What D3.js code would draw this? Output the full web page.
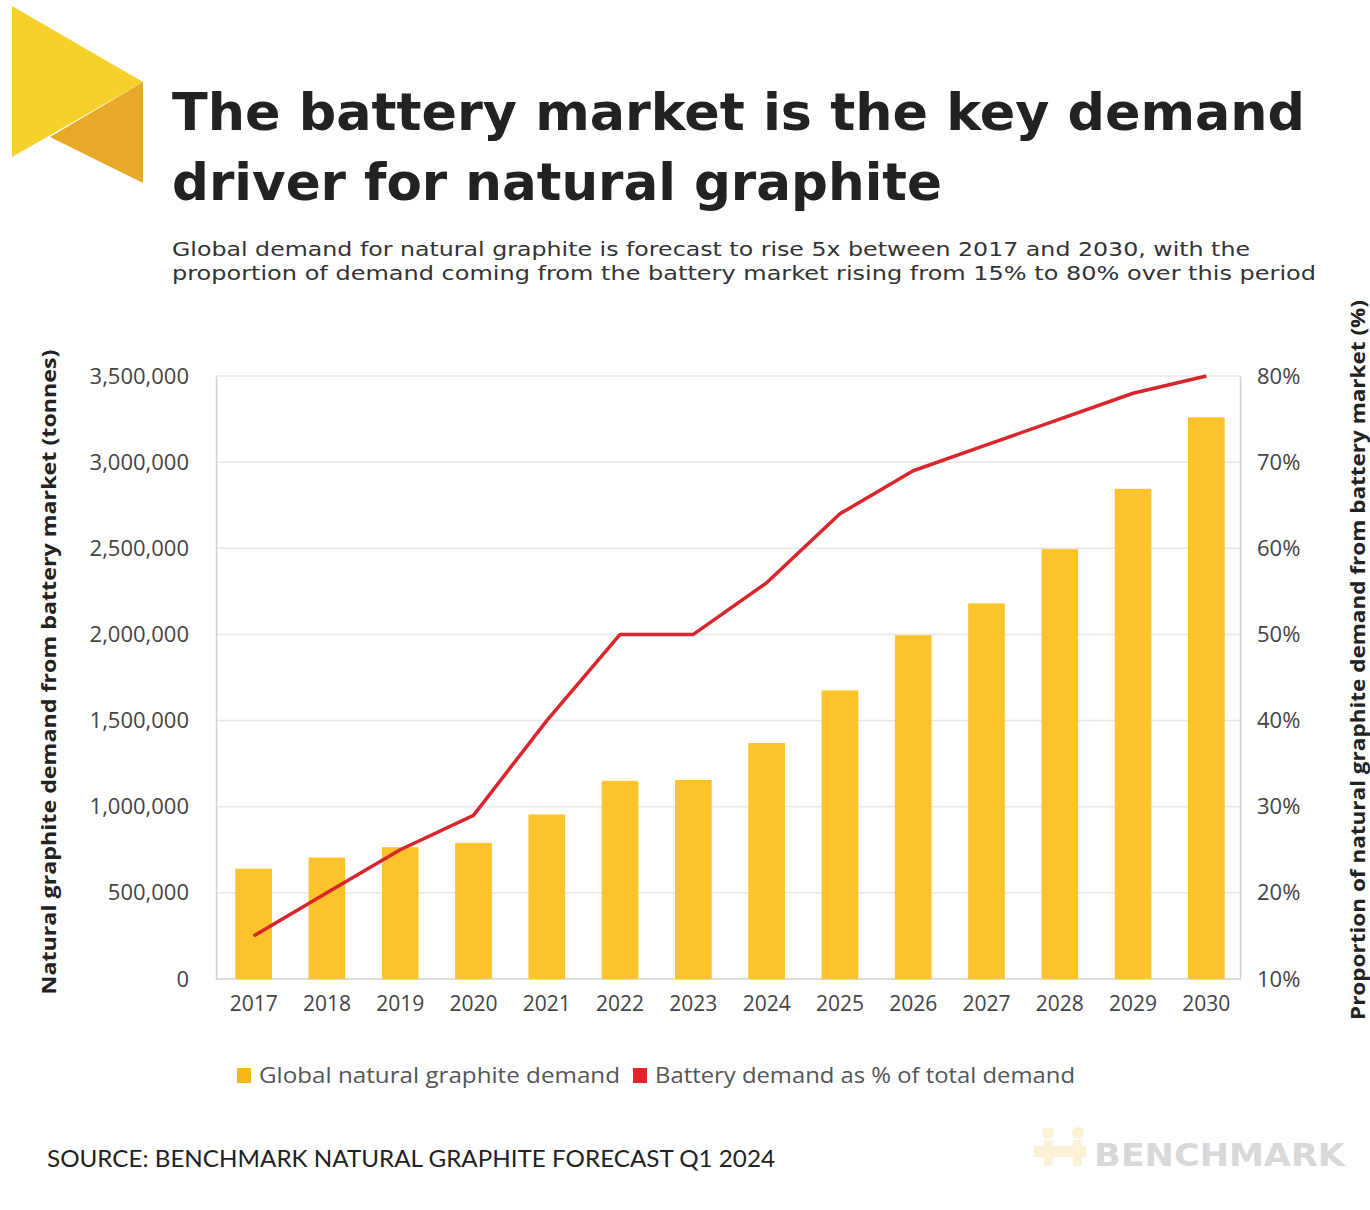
<!DOCTYPE html>
<html><head><meta charset="utf-8">
<script src="https://cdn.jsdelivr.net/npm/d3@7"></script>
<style>body{margin:0;background:#fff}</style>
</head><body>
<svg id="c" width="1370" height="1210"></svg>
<script>
const years = ["2017","2018","2019","2020","2021","2022","2023","2024","2025","2026","2027","2028","2029","2030"];
const demand = [640000,705000,765000,790000,955000,1150000,1155000,1370000,1675000,1995000,2180000,2495000,2845000,3260000];
const batteryPct = [15,20,25,29,40,50,50,56,64,69,72,75,78,80];
const leftTicks = [0,500000,1000000,1500000,2000000,2500000,3000000,3500000];
const rightTicks = [10,20,30,40,50,60,70,80];

const svg = d3.select("#c");
const W = 1370, H = 1210;
svg.append("rect").attr("width",W).attr("height",H).attr("fill","#fff");

// logo
svg.append("polygon").attr("points","12,6 143,82 12,157").attr("fill","#F6D12A");
svg.append("polygon").attr("points","143,82 50,137 143,183").attr("fill","#E9A928");

const titleFont = "'DejaVu Sans', sans-serif";
svg.append("text").attr("x",172).attr("y",130).attr("font-family",titleFont).attr("font-weight","bold")
  .attr("font-size",52).attr("fill","#222").attr("textLength",1133).attr("lengthAdjust","spacingAndGlyphs")
  .text("The battery market is the key demand");
svg.append("text").attr("x",172).attr("y",200).attr("font-family",titleFont).attr("font-weight","bold")
  .attr("font-size",52).attr("fill","#222").attr("textLength",770).attr("lengthAdjust","spacingAndGlyphs")
  .text("driver for natural graphite");
svg.append("text").attr("x",172).attr("y",256).attr("font-family","'DejaVu Sans', sans-serif")
  .attr("font-size",20).attr("fill","#333").attr("textLength",1078).attr("lengthAdjust","spacingAndGlyphs")
  .text("Global demand for natural graphite is forecast to rise 5x between 2017 and 2030, with the");
svg.append("text").attr("x",172).attr("y",280).attr("font-family","'DejaVu Sans', sans-serif")
  .attr("font-size",20).attr("fill","#333").attr("textLength",1144).attr("lengthAdjust","spacingAndGlyphs")
  .text("proportion of demand coming from the battery market rising from 15% to 80% over this period");

const L = 216, R = 1240, T = 376, B = 979;
const x = d3.scaleBand().domain(years).range([L+1, R+3]).paddingInner(0.5).paddingOuter(0.25);
const yL = d3.scaleLinear().domain([0,3500000]).range([B,T]);
const yR = d3.scaleLinear().domain([10,80]).range([B,T]);

// gridlines
svg.append("g").selectAll("line").data(leftTicks.slice(1)).join("line")
  .attr("x1",L).attr("x2",R).attr("y1",d=>yL(d)).attr("y2",d=>yL(d))
  .attr("stroke","#e8e8e8").attr("stroke-width",1.5);

// axes
const fmt = d3.format(",");
const axL = svg.append("g").attr("transform",`translate(${L},0)`)
  .call(d3.axisLeft(yL).tickValues(leftTicks).tickFormat(fmt).tickSize(0).tickPadding(27));
const axR = svg.append("g").attr("transform",`translate(${R},0)`)
  .call(d3.axisRight(yR).tickValues(rightTicks).tickFormat(d=>d+"%").tickSize(0).tickPadding(17));
const axB = svg.append("g").attr("transform",`translate(0,${B})`)
  .call(d3.axisBottom(x).tickSize(0).tickPadding(17));
[axL,axR,axB].forEach(a=>{
  a.select(".domain").attr("stroke","#d0d0d0").attr("stroke-width",1.5);
  a.selectAll("text").attr("font-family","'Open Sans', sans-serif").attr("font-size",22).attr("fill","#444");
});
axB.selectAll("text").attr("font-size",21);
axB.select(".domain").attr("d",`M${L},0H${R}`);

// bars
svg.append("g").selectAll("rect").data(years).join("rect")
  .attr("x",d=>x(d)).attr("width",x.bandwidth())
  .attr("y",(d,i)=>yL(demand[i])).attr("height",(d,i)=>B-yL(demand[i]))
  .attr("fill","#FCC42A");

// line
const line = d3.line().x((d,i)=>x(years[i])+x.bandwidth()/2).y(d=>yR(d));
svg.append("path").datum(batteryPct).attr("d",line).attr("fill","none")
  .attr("stroke","#D9262C").attr("stroke-width",3.5).attr("stroke-linejoin","round");

// axis titles
svg.append("text").attr("transform",`translate(56,672) rotate(-90)`).attr("text-anchor","middle")
  .attr("font-family","'Open Sans', sans-serif").attr("font-weight","bold").attr("font-size",20).attr("fill","#222")
  .attr("textLength",645).attr("lengthAdjust","spacingAndGlyphs")
  .text("Natural graphite demand from battery market (tonnes)");
svg.append("text").attr("transform",`translate(1365,660) rotate(-90)`).attr("text-anchor","middle")
  .attr("font-family","'Open Sans', sans-serif").attr("font-weight","bold").attr("font-size",20).attr("fill","#222")
  .attr("textLength",720).attr("lengthAdjust","spacingAndGlyphs")
  .text("Proportion of natural graphite demand from battery market (%)");

// legend
const lg = svg.append("g");
lg.append("rect").attr("x",237).attr("y",1068).attr("width",14).attr("height",15).attr("fill","#F5B61E");
lg.append("text").attr("x",259).attr("y",1083).attr("font-family","'Open Sans', sans-serif").attr("font-size",21).attr("fill","#555")
  .attr("textLength",361).attr("lengthAdjust","spacingAndGlyphs").text("Global natural graphite demand");
lg.append("rect").attr("x",633).attr("y",1068).attr("width",14).attr("height",15).attr("fill","#E2232A");
lg.append("text").attr("x",655).attr("y",1083).attr("font-family","'Open Sans', sans-serif").attr("font-size",21).attr("fill","#555")
  .attr("textLength",420).attr("lengthAdjust","spacingAndGlyphs").text("Battery demand as % of total demand");

// source
svg.append("text").attr("x",47).attr("y",1167).attr("font-family","Lato, sans-serif").attr("font-size",24).attr("fill","#222")
  .attr("textLength",728).attr("lengthAdjust","spacingAndGlyphs")
  .text("SOURCE: BENCHMARK NATURAL GRAPHITE FORECAST Q1 2024");

// benchmark mark
const bm = svg.append("g").attr("opacity",0.3);
bm.append("circle").attr("cx",1048).attr("cy",1133).attr("r",6).attr("fill","#F8D77A");
bm.append("circle").attr("cx",1078).attr("cy",1133).attr("r",6).attr("fill","#F8D77A");
bm.append("rect").attr("x",1034).attr("y",1146).attr("width",52).attr("height",11).attr("fill","#F8D77A");
bm.append("rect").attr("x",1044).attr("y",1140).attr("width",9).attr("height",26).attr("fill","#F8D77A");
bm.append("rect").attr("x",1073).attr("y",1140).attr("width",9).attr("height",26).attr("fill","#F8D77A");
svg.append("text").attr("x",1094).attr("y",1166).attr("font-family","'DejaVu Sans', sans-serif").attr("font-weight","bold")
  .attr("font-size",32).attr("fill","#d8d8d8").attr("textLength",251).attr("lengthAdjust","spacingAndGlyphs").text("BENCHMARK");
</script>
</body></html>
